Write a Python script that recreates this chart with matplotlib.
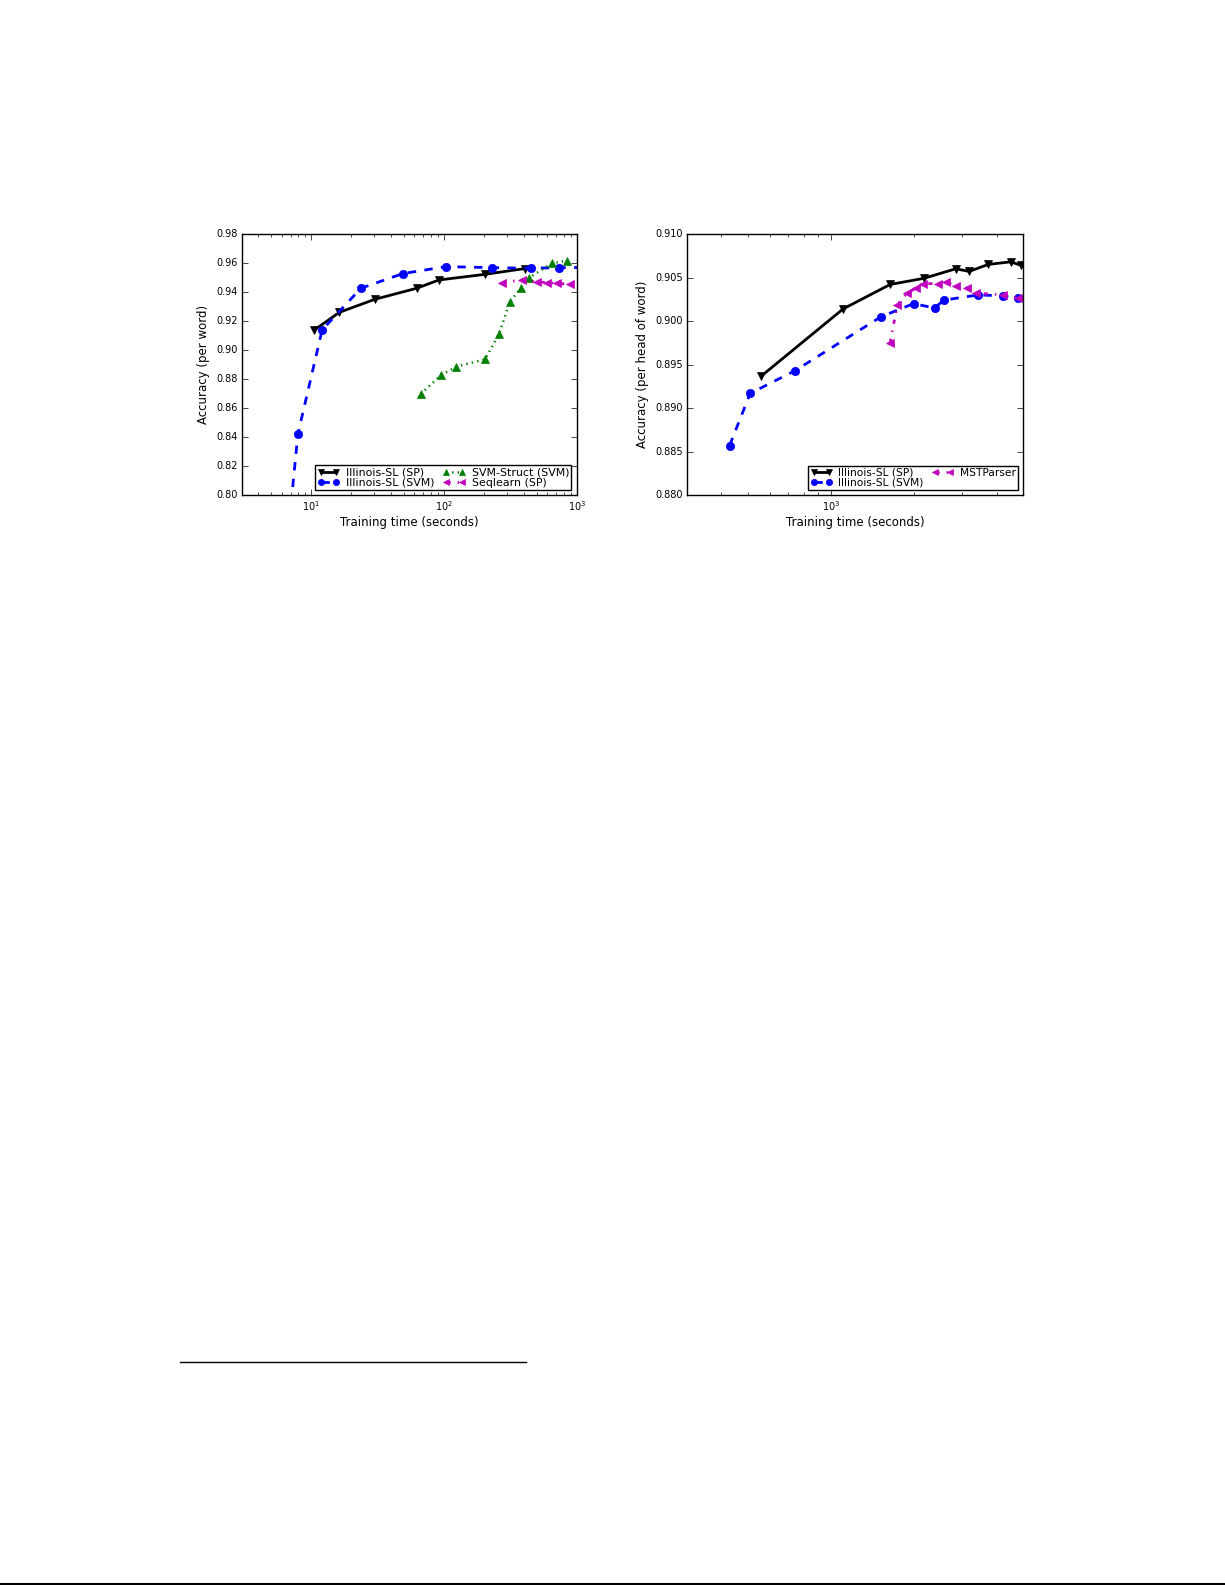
import matplotlib
matplotlib.use("Agg")
import matplotlib.pyplot as plt

plt.style.use("classic")
plt.rcParams["mathtext.fontset"] = "dejavusans"
plt.rcParams["font.family"] = ["DejaVu Sans"]

# POS tagging (left panel)
pos_sp_time = [10.6, 16.3, 30.2, 62.4, 91.7, 204, 410]
pos_sp_acc = [0.9139, 0.926, 0.935, 0.9426, 0.9483, 0.9522, 0.9562]
pos_svm_time = [6.5, 7.94, 12.1, 23.7, 49, 104, 231, 452, 741, 1500]
pos_svm_acc = [0.76, 0.842, 0.9139, 0.9426, 0.9527, 0.9575, 0.9568, 0.9564, 0.9568, 0.957]
pos_struct_time = [66.8, 95.5, 124, 204, 260, 313, 380, 434, 650, 843]
pos_struct_acc = [0.8698, 0.8829, 0.8886, 0.8937, 0.9111, 0.9329, 0.943, 0.9495, 0.9598, 0.9616]
pos_seq_time = [274, 387, 501, 596, 708, 891, 1200]
pos_seq_acc = [0.9465, 0.9483, 0.9471, 0.9465, 0.946, 0.9453, 0.9450]

# dependency parsing (right panel)
dep_sp_time = [560, 1109, 1642, 2173, 2842, 3177, 3729, 4498, 4898, 5300]
dep_sp_acc = [0.8937, 0.9014, 0.9042, 0.9049, 0.9060, 0.9057, 0.9065, 0.9068, 0.9064, 0.9062]
dep_svm_time = [429, 510, 741, 1522, 1997, 2382, 2570, 3427, 4207, 4797, 5300]
dep_svm_acc = [0.8857, 0.8917, 0.8943, 0.9005, 0.9020, 0.9015, 0.9024, 0.9030, 0.9029, 0.9026, 0.9025]
dep_mst_time = [1642, 1741, 1888, 2042, 2159, 2449, 2628, 2842, 3133, 3362, 4207, 4797, 5300]
dep_mst_acc = [0.8975, 0.9018, 0.9032, 0.9038, 0.9043, 0.9043, 0.9045, 0.9040, 0.9038, 0.9032,
               0.9030, 0.9026, 0.9024]

fig = plt.figure(figsize=(12.25, 15.85), dpi=100, facecolor="white")

tick_fs = 7
label_fs = 8.5


def series(ax, x, y, fmt, color, marker, label, lw=2):
    ax.plot(x, y, fmt, color=color, marker=marker, lw=lw, ms=6,
            mec=color, mfc=color, label=label)


def style_axes(ax, ylabel, legend_fs):
    ax.set_xscale("log")
    ax.set_xlabel("Training time (seconds)", fontsize=label_fs, labelpad=2)
    ax.set_ylabel(ylabel, fontsize=label_fs, labelpad=4)
    ax.tick_params(labelsize=tick_fs, pad=3)
    ax.legend(loc="lower right", ncol=2, fontsize=legend_fs, numpoints=2,
              handlelength=2.0, markerscale=0.75, columnspacing=0.8,
              handletextpad=0.6, borderpad=0.2, labelspacing=0.0,
              borderaxespad=0.5)


ax1 = fig.add_axes([0.1973, 0.6875, 0.2735, 0.1649])
series(ax1, pos_sp_time, pos_sp_acc, "-", "k", "v", "Illinois-SL (SP)")
series(ax1, pos_svm_time, pos_svm_acc, "--", "b", "o", "Illinois-SL (SVM)")
series(ax1, pos_struct_time, pos_struct_acc, ":", "g", "^", "SVM-Struct (SVM)", lw=1.8)
series(ax1, pos_seq_time, pos_seq_acc, "-.", "m", "<", "Seqlearn (SP)")
ax1.set_xlim(3, 1000)
ax1.set_ylim(0.80, 0.98)
ax1.set_yticks([0.80, 0.82, 0.84, 0.86, 0.88, 0.90, 0.92, 0.94, 0.96, 0.98])
ax1.set_yticklabels(["%.2f" % v for v in ax1.get_yticks()])
style_axes(ax1, "Accuracy (per word)", 7.9)

ax2 = fig.add_axes([0.5606, 0.6875, 0.2748, 0.1649])
series(ax2, dep_sp_time, dep_sp_acc, "-", "k", "v", "Illinois-SL (SP)")
series(ax2, dep_svm_time, dep_svm_acc, "--", "b", "o", "Illinois-SL (SVM)")
series(ax2, dep_mst_time, dep_mst_acc, "-.", "m", "<", "MSTParser")
ax2.set_xlim(300, 5000)
ax2.set_ylim(0.880, 0.910)
ax2.set_yticks([0.880, 0.885, 0.890, 0.895, 0.900, 0.905, 0.910])
ax2.set_yticklabels(["%.3f" % v for v in ax2.get_yticks()])
style_axes(ax2, "Accuracy (per head of word)", 7.7)

# page rules: footnote separator and bottom edge
fig.add_artist(plt.Line2D([180 / 1225, 525.7 / 1225], [1 - 1362.3 / 1585] * 2,
                          color="k", lw=1.0, transform=fig.transFigure))
fig.add_artist(plt.Line2D([0, 1], [1 - 1584 / 1585] * 2,
                          color="k", lw=1.5, transform=fig.transFigure))

fig.savefig("out.png", dpi=100, facecolor="white")
